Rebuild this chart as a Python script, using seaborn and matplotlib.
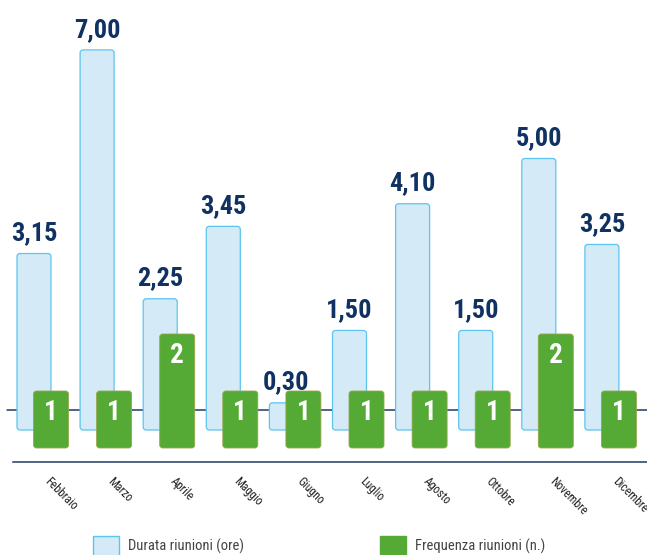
import numpy as np
import pandas as pd
import seaborn as sns
import matplotlib
matplotlib.use("Agg")
import matplotlib.pyplot as plt
from matplotlib.patches import FancyBboxPatch, Patch
from matplotlib import font_manager as fm

# ---- data ----
mesi = ["Febbraio", "Marzo", "Aprile", "Maggio", "Giugno", "Luglio",
        "Agosto", "Ottobre", "Novembre", "Dicembre"]
# durations in hours (labels are h,mm)
durata_ore = [3.25, 7.0, 2.4167, 3.75, 0.5, 1.8333, 4.1667, 1.8333, 5.0, 3.4167]
durata_label = ["3,15", "7,00", "2,25", "3,45", "0,30", "1,50", "4,10", "1,50", "5,00", "3,25"]
frequenza = [1, 1, 2, 1, 1, 1, 1, 1, 2, 1]
legend_labels = ["Durata riunioni (ore)", "Frequenza riunioni (n.)"]

# ---- style ----
sns.set_style("white")
names = {f.name for f in fm.fontManager.ttflist}
narrow = "DejaVu Sans"
for cand in ["Roboto Condensed", "Liberation Sans Narrow", "Open Sans Condensed"]:
    if cand in names:
        narrow = cand
        break
plt.rcParams["font.family"] = [narrow, "DejaVu Sans"]

blue_fc = "#d4eaf6"
blue_ec = "#5cc5ef"
green_fc = "#54aa34"
green_ec = "#98a64c"
navy = "#0f3262"
axis_c = "#1f3b63"

W, H = 647, 555
fig = plt.figure(figsize=(W / 100, H / 100), dpi=100)
ax_left, ax_bottom, ax_right, ax_top = 13, 462, 647, 0
ax = fig.add_axes([ax_left / W, (H - ax_bottom) / H, (ax_right - ax_left) / W, (ax_bottom - ax_top) / H])
ax2 = ax.twinx()

df = pd.DataFrame({"mese": mesi, "durata": durata_ore, "frequenza": frequenza})

px_x = 63.1           # px per category
px_blue = 54.3        # px per hour
px_green = 57.0       # px per meeting
axh = ax_bottom - ax_top
bw = 34 / px_x
gw = 35 / px_x

sns.barplot(data=df, x="mese", y="durata", ax=ax, color=blue_fc, width=bw,
            saturation=1, edgecolor=blue_ec, linewidth=0.9)
sns.barplot(data=df, x="mese", y="frequenza", ax=ax2, color=green_fc, width=gw,
            saturation=1, edgecolor=green_ec, linewidth=0.6)

# limits: value 0 of blue at px 430, of green at px 448
x0 = (51 - ax_left) / px_x
ax.set_xlim(-x0, -x0 + (ax_right - ax_left) / px_x)
yb0 = -(ax_bottom - 430) / px_blue
ax.set_ylim(yb0, yb0 + axh / px_blue)
yg0 = -(ax_bottom - 448) / px_green
ax2.set_ylim(yg0, yg0 + axh / px_green)


def round_bars(axis, shift, r, aspect, z):
    for p in list(axis.patches):
        x, y = p.get_x(), p.get_y()
        w, h = p.get_width(), p.get_height()
        fb = FancyBboxPatch((x + shift, y), w, h,
                            boxstyle=f"round,pad=0,rounding_size={r}",
                            mutation_aspect=aspect,
                            fc=p.get_facecolor(), ec=p.get_edgecolor(),
                            lw=p.get_linewidth(), zorder=z)
        p.remove()
        axis.add_patch(fb)


round_bars(ax, -bw / 2, 3 / px_x, px_x / px_blue, 2)
round_bars(ax2, 0, 3 / px_x, px_x / px_green, 2)

# horizontal reference line (behind bars)
ax.axhline((430 - 410) / px_blue, xmin=-6 / (ax_right - ax_left), xmax=1,
           color=axis_c, lw=1.1, zorder=1, clip_on=False)

# value labels
for i, (v, lab) in enumerate(zip(durata_ore, durata_label)):
    ax.annotate(lab, xy=(i - bw / 2, v), xytext=(0, 9.5), textcoords="offset points",
                ha="center", va="baseline", fontsize=19, fontweight="bold", color=navy)
for i, f in enumerate(frequenza):
    ax2.annotate(str(f), xy=(i, f), xytext=(0, -15.5), textcoords="offset points",
                 ha="center", va="center", fontsize=19.5, fontweight="bold", color="white",
                 zorder=5)

# axes styling
for a in (ax, ax2):
    for s in ["top", "right", "left"]:
        a.spines[s].set_visible(False)
    a.set_xlabel("")
    a.set_ylabel("")
    a.set_yticks([])
ax2.spines["bottom"].set_visible(False)
ax.spines["bottom"].set_color(axis_c)
ax.spines["bottom"].set_linewidth(1.1)
ax.set_xticks(range(len(mesi)))
ax.set_xticklabels(mesi, rotation=-45, ha="left", va="top", rotation_mode="anchor",
                   fontsize=8.5, color="#222222")
ax.tick_params(axis="x", length=6, width=1, color=axis_c, direction="out", pad=3)
ax.set_facecolor("none")

# legend
handles = [Patch(fc=blue_fc, ec=blue_ec, lw=1, label=legend_labels[0]),
           Patch(fc=green_fc, ec=green_fc, lw=1, label=legend_labels[1])]
fig.legend(handles=handles, loc="center", bbox_to_anchor=(319 / W, 9 / H), ncol=2,
           frameon=False, fontsize=10.5, handlelength=1.8, handleheight=1.8,
           handletextpad=0.6, columnspacing=9.3, labelcolor="#444444", borderpad=0)

fig.savefig("out.png", dpi=100)
